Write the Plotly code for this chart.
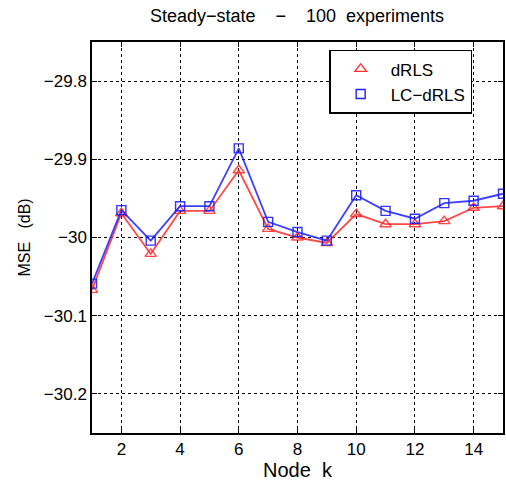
import plotly.graph_objects as go

nodes = list(range(1, 16))
drls = [-30.067, -29.969, -30.021, -29.966, -29.966, -29.914, -29.989, -30.000,
        -30.007, -29.970, -29.983, -29.983, -29.979, -29.962, -29.960]
lc_drls = [-30.059, -29.965, -30.004, -29.960, -29.960, -29.886, -29.980, -29.993,
           -30.004, -29.946, -29.966, -29.976, -29.956, -29.953, -29.944]
x_ticks = [2, 4, 6, 8, 10, 12, 14]
y_ticks = [-30.2, -30.1, -30.0, -29.9, -29.8]
y_tick_text = ["\u221230.2", "\u221230.1", "\u221230", "\u221229.9", "\u221229.8"]

fig = go.Figure()
fig.add_trace(go.Scatter(x=nodes, y=drls, mode="lines+markers", showlegend=False,
                         line=dict(color="rgba(255,40,40,0.85)", width=1.8),
                         marker=dict(symbol="triangle-up-open", size=10,
                                     color="rgba(255,40,40,0.85)", line=dict(width=1.4))))
fig.add_trace(go.Scatter(x=nodes, y=lc_drls, mode="lines+markers", showlegend=False,
                         line=dict(color="rgba(30,30,255,0.85)", width=1.8),
                         marker=dict(symbol="square-open", size=9,
                                     color="rgba(30,30,255,0.9)", line=dict(width=1.4))))
fig.add_trace(go.Scatter(x=[None], y=[None], mode="markers", name="dRLS",
                         marker=dict(symbol="triangle-up-open", size=10, color="#ff3030",
                                     line=dict(width=1.4))))
fig.add_trace(go.Scatter(x=[None], y=[None], mode="markers", name="LC\u2212dRLS",
                         marker=dict(symbol="square-open", size=9, color="#1e1eff",
                                     line=dict(width=1.4))))

axis_common = dict(showline=True, linecolor="black", linewidth=1.5, mirror="ticks",
                   ticks="inside", ticklen=5, tickcolor="black", tickwidth=1,
                   showgrid=True, gridcolor="black", gridwidth=1.4, griddash="dot",
                   zeroline=False, automargin=False, tickfont=dict(size=17, color="black"))

nb = "\u00a0"
title_text = f"Steady\u2212state{nb*4}\u2212{nb*4}100{nb*2}experiments"

fig.update_layout(
    width=506, height=486,
    margin=dict(l=92, r=3, t=42, b=53),
    paper_bgcolor="white", plot_bgcolor="white",
    font=dict(family="Liberation Sans, Arial, sans-serif", size=17, color="black"),
    title=dict(text=title_text, x=0.587, xanchor="center",
               y=0.967, yanchor="middle", font=dict(size=18)),
    xaxis=dict(range=[1, 15], tickvals=x_ticks, title=dict(text=f"Node{nb*2}k", standoff=5),
               **axis_common),
    yaxis=dict(range=[-30.25, -29.75], tickvals=y_ticks, ticktext=y_tick_text,
               title=dict(text=f"MSE{nb*3}(dB)", standoff=9, font=dict(size=16)),
               **axis_common),
    legend=dict(x=0.577, y=0.98, xanchor="left", yanchor="top", bgcolor="white",
                bordercolor="black", borderwidth=1.5, font=dict(size=17),
                itemwidth=50, tracegroupgap=2),
)

fig.write_html("out.html", config={"displayModeBar": False},
               post_script="document.body.style.margin='0';")
